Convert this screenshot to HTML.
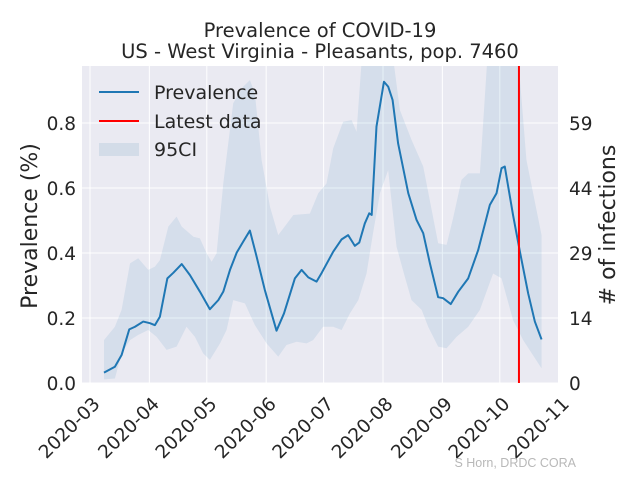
<!DOCTYPE html>
<html><head><meta charset="utf-8"><style>
body{margin:0;background:#fff;font-family:"Liberation Sans","DejaVu Sans",sans-serif}
svg{display:block}
</style></head><body>
<svg id="chart" width="640" height="480" xmlns="http://www.w3.org/2000/svg">
<text x="320" y="37" text-anchor="middle" font-size="19.5" fill="#262626" font-family="DejaVu Sans, sans-serif">Prevalence of COVID-19</text>
<text x="320" y="58" text-anchor="middle" font-size="19.5" fill="#262626" font-family="DejaVu Sans, sans-serif">US - West Virginia - Pleasants, pop. 7460</text>
<rect x="82" y="66" width="476" height="317" fill="#eaeaf2"/>
<defs><clipPath id="clip"><rect x="82" y="66" width="476" height="317"/></clipPath></defs>
<g id="grid"></g>
<g id="marks" clip-path="url(#clip)"></g>
<g id="axes" font-family="DejaVu Sans, sans-serif" fill="#262626"></g>
<text transform="translate(37,226) rotate(-90)" text-anchor="middle" font-size="22" fill="#262626" font-family="DejaVu Sans, sans-serif">Prevalence (%)</text>
<text transform="translate(615,225) rotate(-90)" text-anchor="middle" font-size="22" fill="#262626" font-family="DejaVu Sans, sans-serif"># of infections</text>
<g font-family="DejaVu Sans, sans-serif" font-size="19" fill="#262626">
<line x1="99" y1="92" x2="139" y2="92" stroke="#1f77b4" stroke-width="2"/>
<text x="154" y="99">Prevalence</text>
<line x1="99" y1="121" x2="139" y2="121" stroke="#ff0000" stroke-width="2"/>
<text x="154" y="128">Latest data</text>
<rect x="99" y="143" width="40" height="13" fill="#d3dce8"/>
<text x="154" y="156">95CI</text>
</g>
<text x="576" y="467" text-anchor="end" font-size="12.5" fill="#b8b8b8">S Horn, DRDC CORA</text>
</svg>
<script>
const monthLabels=["2020-03","2020-04","2020-05","2020-06","2020-07","2020-08","2020-09","2020-10","2020-11"];
const monthDays=[0,31,61,92,122,153,184,214,245];
const yTicks=[0.0,0.2,0.4,0.6,0.8];
const population=7460;
const latestDay=224;
const lineDays=[7.3,13,16.5,20.5,23.5,27.8,31.3,33.9,36.5,40.4,43.5,47.9,52.2,57.4,62.6,67,69.6,73.1,76.6,80,83.5,87,91.3,97.4,101.3,107,110.5,114,118.3,121,127,131.4,134.8,138.3,140.6,143.5,145.8,147.1,149.6,153.5,155.7,158,160.9,166.2,170.5,174,177.5,181.8,184.4,188.4,192.3,197.5,202.7,208.8,212.3,214.9,216.6,220.9,224.5,228.8,232.3,235.8];
const lineVals=[0.032,0.05,0.086,0.165,0.173,0.189,0.184,0.178,0.204,0.322,0.339,0.366,0.332,0.281,0.227,0.255,0.281,0.348,0.401,0.435,0.469,0.389,0.286,0.161,0.214,0.322,0.348,0.325,0.312,0.339,0.404,0.442,0.455,0.422,0.432,0.491,0.522,0.517,0.789,0.927,0.912,0.871,0.737,0.584,0.502,0.461,0.368,0.264,0.261,0.243,0.281,0.322,0.409,0.548,0.584,0.661,0.666,0.517,0.404,0.276,0.189,0.134];
const upperDays=[7.3,13,16.5,20.9,25.2,30.4,33.9,36.5,40.9,45.2,47.9,54,57.4,60.9,63.5,66.1,69.6,74.8,80,83.5,86.1,89.6,94,98.3,106.2,114.8,119.2,123.5,127,132.2,136.6,139.2,144.4,158.3,161.8,167.9,174,181.8,186.2,189.6,194,197.5,203.6,209.7,220.9,227.9,235.8];
const upperVals=[0.132,0.173,0.225,0.368,0.384,0.348,0.358,0.378,0.481,0.512,0.481,0.45,0.445,0.399,0.373,0.399,0.614,0.861,0.912,0.932,0.891,0.686,0.542,0.455,0.517,0.521,0.584,0.614,0.722,0.804,0.809,0.773,1.2,1.0,0.84,0.748,0.666,0.43,0.425,0.507,0.625,0.645,0.645,1.2,1.2,0.686,0.455];
const lowerDays=[7.3,13,16.5,20.9,25.2,30.4,34.8,40,45.2,50.4,54.8,59.1,62.6,67.9,71.3,74.8,80.9,86.1,92.2,98.3,102.6,107.9,113.1,116.5,121.7,127,131.4,135.7,140.1,144.4,147.8,151.4,155.7,160.1,164.4,167.9,173.2,176.6,181.8,186.2,191.4,197.5,203.6,210.5,214.9,220.9,226.2,235.8];
const lowerVals=[0.011,0.014,0.091,0.132,0.148,0.163,0.142,0.102,0.112,0.173,0.142,0.091,0.071,0.122,0.163,0.255,0.245,0.178,0.122,0.081,0.117,0.127,0.122,0.132,0.173,0.173,0.163,0.214,0.255,0.337,0.461,0.584,0.655,0.419,0.327,0.255,0.225,0.173,0.112,0.107,0.142,0.173,0.225,0.337,0.322,0.194,0.132,0.045];

const NS="http://www.w3.org/2000/svg";
const X0=90,PXD=1.915,Y0=383,PXV=325,L=82,R=558,T=66;
const xs=d=>X0+d*PXD, ys=v=>Y0-v*PXV;
function mk(tag,attrs,parent){const e=document.createElementNS(NS,tag);for(const k in attrs)e.setAttribute(k,attrs[k]);parent.appendChild(e);return e;}
const grid=document.getElementById('grid'),marks=document.getElementById('marks'),axes=document.getElementById('axes');
monthDays.forEach((d,i)=>{
  const g=mk('line',{x1:xs(d),x2:xs(d),y1:T,y2:Y0,stroke:'#fff','stroke-width':1},grid);
  
  
  const x=xs(d)+11,y=405;
  const t=mk('text',{x:x,y:y,'text-anchor':'end','font-size':18.5,transform:`rotate(-45 ${x} ${y})`},axes);
  t.textContent=monthLabels[i];
  
  
});
yTicks.forEach(v=>{
  const g=mk('line',{x1:L,x2:R,y1:ys(v),y2:ys(v),stroke:'#fff','stroke-width':1},grid);
  
  
  const t=mk('text',{x:76,y:ys(v)+7,'text-anchor':'end','font-size':18.5},axes);
  t.textContent=v.toFixed(1);
  
  
  const t2=mk('text',{x:569,y:ys(v)+7,'text-anchor':'start','font-size':18.5},axes);
  t2.textContent=Math.floor(v*population/100+1e-9);
  
  
});
let pts=upperDays.map((d,i)=>xs(d)+','+ys(upperVals[i]));
for(let i=lowerDays.length-1;i>=0;i--)pts.push(xs(lowerDays[i])+','+ys(lowerVals[i]));
const ci=mk('polygon',{points:pts.join(' '),fill:'#1f77b4','fill-opacity':0.1},marks);


const ln=mk('polyline',{points:lineDays.map((d,i)=>xs(d)+','+ys(lineVals[i])).join(' '),fill:'none',stroke:'#1f77b4','stroke-width':2,'stroke-linejoin':'round'},marks);


const rl=mk('line',{x1:xs(latestDay),x2:xs(latestDay),y1:T,y2:Y0,stroke:'#ff0000','stroke-width':2},marks);


</script>
</body></html>
